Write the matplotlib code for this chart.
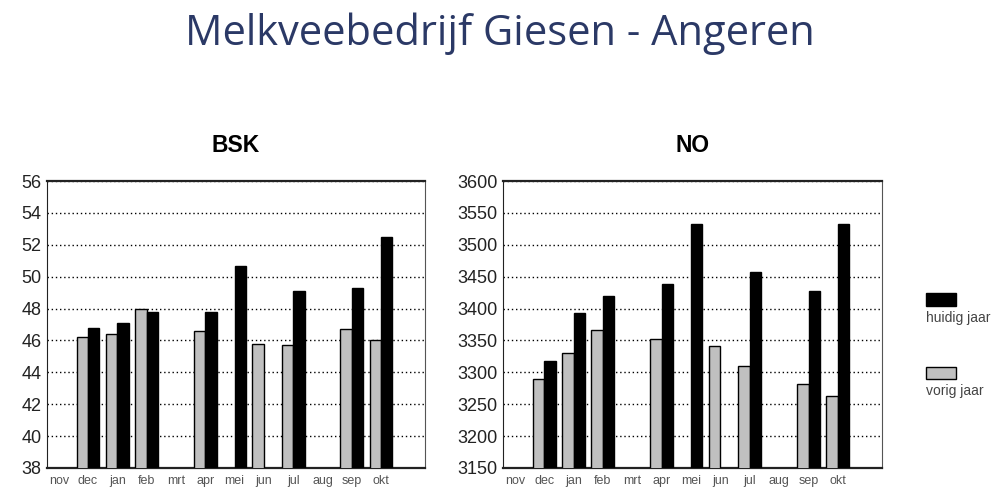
import numpy as np
import matplotlib.pyplot as plt

# Months on the x axis
months = ['nov', 'dec', 'jan', 'feb', 'mrt', 'apr', 'mei', 'jun', 'jul', 'aug', 'sep', 'okt']

# BSK values (nan = no bar)
bsk_vorig = [np.nan, 46.2, 46.4, 48.0, np.nan, 46.6, np.nan, 45.8, 45.7, np.nan, 46.7, 46.0]
bsk_huidig = [np.nan, 46.8, 47.1, 47.8, np.nan, 47.8, 50.7, np.nan, 49.1, np.nan, 49.3, 52.5]

# NO values
no_vorig = [np.nan, 3289, 3330, 3367, np.nan, 3353, np.nan, 3341, 3310, np.nan, 3282, 3263]
no_huidig = [np.nan, 3318, 3393, 3420, np.nan, 3438, 3533, np.nan, 3457, np.nan, 3427, 3533]

bsk_ticks = [38, 40, 42, 44, 46, 48, 50, 52, 54, 56]
no_ticks = [3150, 3200, 3250, 3300, 3350, 3400, 3450, 3500, 3550, 3600]

grey = '#c0c0c0'
width = 0.39

fig = plt.figure(figsize=(10, 5), dpi=100)
fig.text(0.5, 0.932, 'Melkveebedrijf Giesen - Angeren', ha='center', va='center',
         fontsize=30, color='#2b3966', family='Open Sans')


def draw_panel(rect, vorig, huidig, ticks, title):
    ax = fig.add_axes(rect)
    x = np.arange(len(months))
    ax.bar(x - width / 2, vorig, width, color=grey, edgecolor='black', linewidth=1, zorder=3)
    ax.bar(x + width / 2, huidig, width, color='black', edgecolor='black', linewidth=1, zorder=3)
    ax.set_ylim(ticks[0], ticks[-1])
    ax.set_xlim(-0.4, 12.5)
    ax.set_yticks(ticks)
    ax.set_xticks(x)
    ax.set_xticklabels(months, fontsize=9, color='#555555', family='Liberation Sans')
    ax.set_yticklabels([str(t) for t in ticks], fontsize=13, color='#222222', family='Liberation Sans')
    ax.tick_params(length=0, axis='y', pad=4)
    ax.tick_params(length=0, axis='x', pad=5)
    ax.yaxis.grid(True, linestyle=(0, (1, 2)), color='black', linewidth=1, zorder=1)
    ax.spines['left'].set_color('#222222')
    ax.spines['right'].set_color('#555555')
    for s in ('top', 'bottom'):
        ax.spines[s].set_linestyle((0, (1, 1)))
        ax.spines[s].set_linewidth(1.6)
        ax.spines[s].set_color('#222222')
    ax.set_title(title, fontsize=16.5, fontweight='bold', family='Liberation Sans', pad=21)
    return ax


draw_panel([0.047, 0.064, 0.378, 0.574], bsk_vorig, bsk_huidig, bsk_ticks, 'BSK')
draw_panel([0.503, 0.064, 0.379, 0.574], no_vorig, no_huidig, no_ticks, 'NO')

# Legend on the right
fig.patches.append(plt.Rectangle((0.926, 1 - 0.612), 0.030, 0.026, transform=fig.transFigure,
                                 facecolor='black', edgecolor='black', linewidth=1))
fig.text(0.926, 1 - 0.636, 'huidig jaar', fontsize=10, color='#444444', va='center', family='Liberation Sans')
fig.patches.append(plt.Rectangle((0.926, 1 - 0.758), 0.030, 0.024, transform=fig.transFigure,
                                 facecolor=grey, edgecolor='black', linewidth=1))
fig.text(0.926, 1 - 0.782, 'vorig jaar', fontsize=10, color='#444444', va='center', family='Liberation Sans')

fig.savefig('out.png', dpi=100, facecolor='white')
